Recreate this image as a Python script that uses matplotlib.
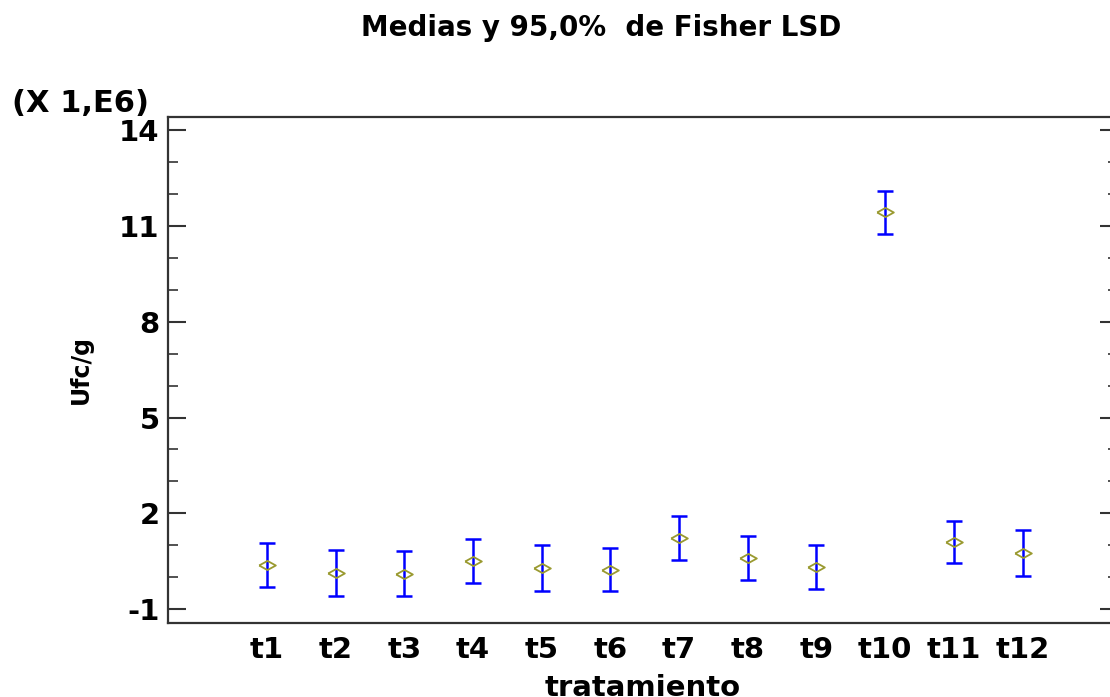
import matplotlib
matplotlib.use("Agg")
import matplotlib.pyplot as plt
from matplotlib.ticker import MultipleLocator

# datos (en millones de ufc/g)
tratamientos = ["t1", "t2", "t3", "t4", "t5", "t6", "t7", "t8", "t9", "t10", "t11", "t12"]
medias = [0.39, 0.13, 0.11, 0.49, 0.28, 0.23, 1.21, 0.60, 0.33, 11.43, 1.09, 0.75]
lsd = [0.69, 0.71, 0.71, 0.69, 0.71, 0.68, 0.69, 0.68, 0.69, 0.68, 0.66, 0.71]
yticks = [-1, 2, 5, 8, 11, 14]

plt.rcParams['axes.unicode_minus'] = False
plt.rcParams['font.family'] = ['DejaVu Sans']
plt.rcParams['font.weight'] = 'bold'

fig = plt.figure(figsize=(11.1, 6.97), dpi=100)
ax = fig.add_axes([168/1110, 74/697, 950/1110, 506/697])

x = list(range(1, len(tratamientos) + 1))
ax.errorbar(x, medias, yerr=lsd, fmt='none', ecolor='#0000ff',
            elinewidth=1.8, capsize=5.8, capthick=1.8, zorder=2)

diamante = [(-1, 0), (0, 0.55), (1, 0), (0, -0.55), (-1, 0)]
ax.plot(x, medias, linestyle='none', marker=diamante, markersize=12,
        markerfacecolor='none', markeredgecolor='#9a9a30', markeredgewidth=1.3, zorder=3)

ax.set_xlim(-0.44, 13.39)
ax.set_ylim(-1.44, 14.42)
ax.set_xticks(x)
ax.set_xticklabels(tratamientos, fontsize=21, fontweight='bold')
ax.set_yticks(yticks)
ax.set_yticklabels([str(v) for v in yticks], fontsize=21, fontweight='bold')
ax.yaxis.set_minor_locator(MultipleLocator(1))

ax.tick_params(axis='x', length=0, pad=9)
ax.tick_params(axis='y', which='major', direction='in', length=13, width=1.5,
               color='#333333', right=True, pad=6)
ax.tick_params(axis='y', which='minor', direction='in', length=7, width=1.2,
               color='#333333', right=True)

for s in ax.spines.values():
    s.set_linewidth(1.6)
    s.set_color('#333333')

ax.set_xlabel("tratamiento", fontsize=21, fontweight='bold')
ax.xaxis.set_label_coords(0.5, -0.1)
ax.set_ylabel("Ufc/g", fontsize=17, fontweight='bold')
ax.yaxis.set_label_coords(-0.079, 0.5)

fig.suptitle("Medias y 95,0%  de Fisher LSD", x=601/1110, y=1 - 28/697,
             va='center', fontsize=20, fontweight='bold')
fig.text(12/1110, 1 - 103/697, "(X 1,E6)", ha='left', va='center',
         fontsize=22, fontweight='bold')

fig.savefig("out.png", dpi=100)
